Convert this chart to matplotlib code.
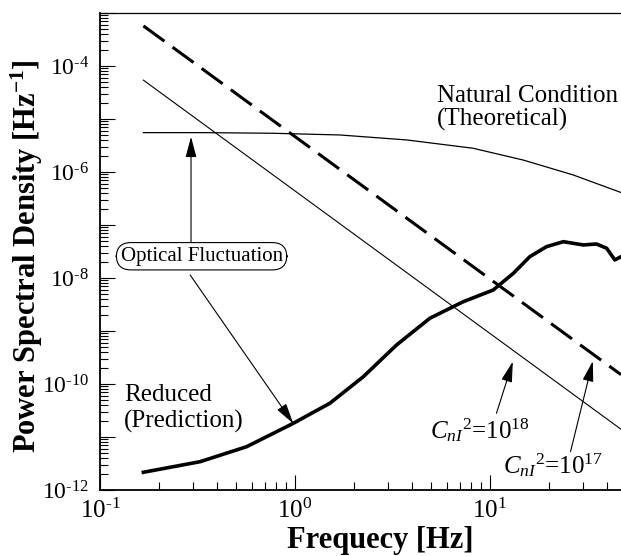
import matplotlib
matplotlib.use('Agg')
import matplotlib.pyplot as plt
from matplotlib.ticker import LogLocator, NullFormatter

plt.rcParams['font.family'] = 'Liberation Serif'
plt.rcParams['mathtext.fontset'] = 'custom'
plt.rcParams['mathtext.rm'] = 'Liberation Serif'
plt.rcParams['mathtext.it'] = 'Liberation Serif:italic'
plt.rcParams['mathtext.bf'] = 'Liberation Serif:bold'
plt.rcParams['axes.unicode_minus'] = False

# straight -8/3 lines, read at both ends
freq_line = [0.167, 47.0]
psd_cn17 = [5.7e-4, 1.5e-10]
psd_cn18 = [5.4e-5, 1.4e-11]

# natural condition (theoretical)
freq_nat = [0.167, 0.352, 0.774, 1.70, 3.74, 8.2, 14.8, 26.7, 47.0]
psd_nat = [5.52e-6, 5.52e-6, 5.37e-6, 4.99e-6, 4.02e-6, 2.80e-6, 1.68e-6, 8.8e-7, 4.1e-7]

# reduced (prediction)
freq_red = [0.167, 0.326, 0.565, 0.98, 1.51, 2.24, 3.32, 4.92, 7.30, 10.4,
            13.2, 16.0, 19.5, 23.8, 30.1, 35.2, 39.7, 43.7, 47.0]
psd_red = [2.16e-12, 3.42e-12, 6.56e-12, 1.81e-11, 4.33e-11, 1.37e-10, 5.45e-10,
           1.74e-9, 3.57e-9, 5.94e-9, 1.23e-8, 2.52e-8, 3.90e-8, 4.84e-8,
           4.20e-8, 4.38e-8, 3.63e-8, 2.19e-8, 2.52e-8]

xtick_vals = [0.1, 1, 10]
xtick_labels = [r'$\mathdefault{10^{\text{-1}}}$', r'$\mathdefault{10^{0}}$', r'$\mathdefault{10^{1}}$']
ytick_exps = list(range(-12, -2))
ytick_vals = [10.0 ** e for e in ytick_exps]
ytick_labels = [r'$\mathdefault{10^{\text{%d}}}$' % e if e % 2 == 0 else '' for e in ytick_exps]

fig = plt.figure(figsize=(6.21, 5.56), dpi=100)
ax = fig.add_axes([0.161, 0.1187, 0.839, 0.858])

ax.loglog(freq_line, psd_cn17, color='black', lw=2.2, dashes=(8.5, 3.3))
ax.loglog(freq_line, psd_cn18, color='black', lw=0.8)
ax.loglog(freq_nat, psd_nat, color='black', lw=0.9)
ax.loglog(freq_red, psd_red, color='black', lw=2.6, solid_joinstyle='round')

ax.set_xlim(0.1, 47.0)
ax.set_ylim(1e-12, 1e-3)

ax.set_xticks(xtick_vals)
ax.set_xticklabels(xtick_labels)
ax.set_yticks(ytick_vals)
ax.set_yticklabels(ytick_labels)
ax.yaxis.set_minor_locator(LogLocator(base=10, subs=range(2, 10), numticks=100))
ax.yaxis.set_minor_formatter(NullFormatter())
ax.tick_params(which='both', direction='in', width=0.8, labelsize=17)
ax.tick_params(axis='x', labelsize=18)
ax.tick_params(which='major', length=11)
ax.tick_params(which='minor', length=6)
ax.tick_params(axis='y', pad=8)
ax.tick_params(axis='x', pad=6)
ax.tick_params(which='both', right=False, top=False)

ax.spines['right'].set_visible(False)
ax.spines['left'].set_linewidth(1.3)
ax.spines['bottom'].set_linewidth(1.3)
ax.spines['top'].set_linewidth(0.9)

ax.set_xlabel('Frequecy [Hz]', fontsize=22, fontweight='bold')
ax.xaxis.set_label_coords(0.537, -0.076)
ax.set_ylabel(r'Power Spectral Density [Hz$^{\mathbf{-1}}$]', fontsize=22, fontweight='bold')
ax.yaxis.set_label_coords(-0.105, 0.49)

arrow = dict(arrowstyle='-|>,head_length=0.9,head_width=0.24', mutation_scale=14,
             lw=0.8, color='black', shrinkA=0, shrinkB=0)

ax.text(0.647, 0.848, 'Natural Condition\n(Theoretical)', transform=ax.transAxes,
        fontsize=18, ha='left', va='top', linespacing=1.05)
ax.text(0.046, 0.222, 'Reduced\n(Prediction)', transform=ax.transAxes,
        fontsize=18, ha='left', va='top', linespacing=1.2)
ax.text(0.195, 0.49, 'Optical Fluctuation', transform=ax.transAxes, fontsize=15,
        ha='center', va='center',
        bbox=dict(boxstyle='round,pad=0.2,rounding_size=0.7', fc='white', ec='black', lw=0.8))

ax.annotate('', xy=(0.293, 4.6e-6), xytext=(0.293, 4.8e-8), arrowprops=arrow)
ax.annotate('', xy=(0.98, 1.8e-11), xytext=(0.29, 1.14e-8), arrowprops=arrow)

ax.text(4.92, 9.5e-12, r'$C_{nI}{}^{2}$=10$^{18}$', fontsize=18, ha='left', va='baseline')
ax.annotate('', xy=(13.1, 2.64e-10), xytext=(10.8, 2.8e-11), arrowprops=arrow)
ax.text(11.7, 2.1e-12, r'$C_{nI}{}^{2}$=10$^{17}$', fontsize=18, ha='left', va='baseline')
ax.annotate('', xy=(33.7, 2.7e-10), xytext=(25.9, 5.3e-12), arrowprops=arrow)

fig.savefig('out.png', dpi=100)
